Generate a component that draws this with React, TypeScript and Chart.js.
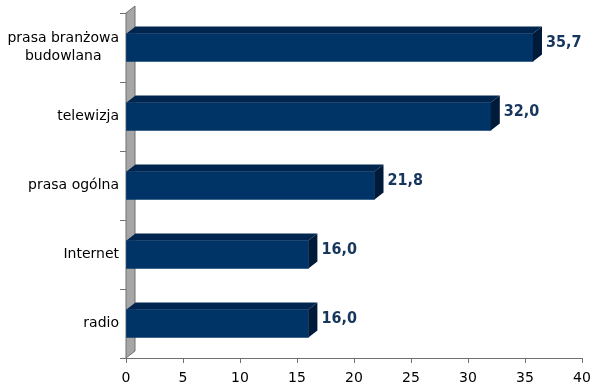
import React, { useEffect, useRef } from "react";
import { Chart, registerables } from "chart.js";

Chart.register(...registerables);

const categories: (string | string[])[] = [
  ["prasa branżowa", "budowlana"],
  "telewizja",
  "prasa ogólna",
  "Internet",
  "radio",
];
const values: number[] = [35.7, 32.0, 21.8, 16.0, 16.0];
const xTicks: number[] = [0, 5, 10, 15, 20, 25, 30, 35, 40];

const DX = 9;
const DY = -7;
const FRONT = "#003366";
const TOP = "#00264f";
const SIDE = "#001a3a";
const LABEL = "#17365d";
const FONT = "'DejaVu Sans', Verdana, sans-serif";
const BOLDFONT = "'DejaVu Sans Condensed', 'DejaVu Sans', sans-serif";

const threeD = {
  id: "threeD",
  beforeDatasetsDraw(chart: any) {
    const { ctx, chartArea } = chart;
    const l = chartArea.left;
    const t = chartArea.top;
    const b = chartArea.bottom;
    ctx.save();
    ctx.beginPath();
    ctx.moveTo(l, t);
    ctx.lineTo(l + DX, t + DY);
    ctx.lineTo(l + DX, b + DY);
    ctx.lineTo(l, b);
    ctx.closePath();
    ctx.fillStyle = "#a6a6a6";
    ctx.fill();
    ctx.strokeStyle = "#707070";
    ctx.lineWidth = 1;
    ctx.stroke();
    ctx.restore();
  },
  afterDatasetsDraw(chart: any) {
    const { ctx } = chart;
    const meta = chart.getDatasetMeta(0);
    ctx.save();
    meta.data.forEach((bar: any, i: number) => {
      const x0 = bar.base;
      const x1 = bar.x;
      const h = bar.height;
      const top = bar.y - h / 2;
      const bot = bar.y + h / 2;
      ctx.beginPath();
      ctx.moveTo(x0, top);
      ctx.lineTo(x0 + DX, top + DY);
      ctx.lineTo(x1 + DX, top + DY);
      ctx.lineTo(x1, top);
      ctx.closePath();
      ctx.fillStyle = TOP;
      ctx.fill();
      ctx.beginPath();
      ctx.moveTo(x1, top);
      ctx.lineTo(x1 + DX, top + DY);
      ctx.lineTo(x1 + DX, bot + DY);
      ctx.lineTo(x1, bot);
      ctx.closePath();
      ctx.fillStyle = SIDE;
      ctx.fill();
      ctx.font = `bold 16px ${BOLDFONT}`;
      ctx.fillStyle = LABEL;
      ctx.textAlign = "left";
      ctx.textBaseline = "middle";
      ctx.fillText(values[i].toFixed(1).replace(".", ","), x1 + DX + 4, bar.y - 5);
    });
    ctx.restore();
  },
  afterDraw(chart: any) {
    const { ctx } = chart;
    const yScale = chart.scales.y;
    const right = yScale.right - 7;
    ctx.save();
    ctx.font = `14px ${FONT}`;
    ctx.fillStyle = "#000";
    ctx.textBaseline = "middle";
    ctx.textAlign = "center";
    categories.forEach((c, i) => {
      const lines = Array.isArray(c) ? c : [c];
      const w = Math.max(...lines.map((s) => ctx.measureText(s).width));
      const cx = right - w / 2;
      const cy = yScale.getPixelForValue(i);
      const lh = 18;
      lines.forEach((s, k) => {
        ctx.fillText(s, cx, cy + (k - (lines.length - 1) / 2) * lh);
      });
    });
    ctx.restore();
  },
};

export default function App() {
  const ref = useRef<HTMLCanvasElement>(null);
  useEffect(() => {
    if (!ref.current) return;
    const chart = new Chart(ref.current, {
      type: "bar",
      data: {
        labels: categories,
        datasets: [
          {
            data: values,
            backgroundColor: FRONT,
            borderWidth: 0,
            barThickness: 28,
          },
        ],
      },
      options: {
        indexAxis: "y",
        animation: false,
        responsive: false,
        maintainAspectRatio: false,
        layout: { padding: { left: 0, top: 13, right: 18, bottom: 0 } },
        plugins: { legend: { display: false }, tooltip: { enabled: false } },
        scales: {
          x: {
            min: 0,
            max: 40,
            afterBuildTicks: (s: any) => {
              s.ticks = xTicks.map((v) => ({ value: v }));
            },
            afterFit: (s: any) => {
              s.height = 34;
            },
            grid: {
              drawOnChartArea: false,
              drawTicks: true,
              tickLength: 5,
              color: "#707070",
            },
            border: { display: true, color: "#707070" },
            ticks: {
              color: "#000",
              font: { family: FONT, size: 14 },
              padding: 7,
            },
          },
          y: {
            afterFit: (s: any) => {
              s.width = 126;
            },
            grid: {
              drawOnChartArea: false,
              drawTicks: true,
              tickLength: 6,
              color: "#707070",
              offset: true,
            },
            border: { display: false },
            ticks: {
              display: false,
            },
          },
        },
      },
      plugins: [threeD],
    });
    return () => chart.destroy();
  }, []);
  return (
    <div style={{ position: "fixed", left: 0, top: 0, width: 600, height: 392, background: "#fff" }}>
      <canvas ref={ref} width={600} height={392} style={{ display: "block" }} />
    </div>
  );
}
